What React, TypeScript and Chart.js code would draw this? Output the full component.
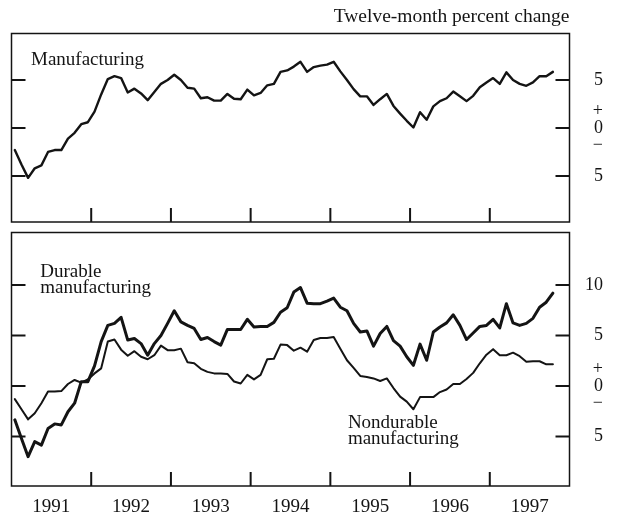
import React, { useEffect, useRef } from 'react';
import { Chart, registerables } from 'chart.js';

Chart.register(...registerables);

// ---- data -------------------------------------------------------------
const START_YEAR = 1991;
const END_YEAR = 1998;
const yearLabels = ['1991', '1992', '1993', '1994', '1995', '1996', '1997'];
const yearBoundaries = [1992, 1993, 1994, 1995, 1996, 1997];
const topTicks = [-5, 0, 5];
const bottomTicks = [-5, 0, 5, 10];
const titleText = 'Twelve-month percent change';

// Monthly twelve-month percent changes, Jan 1991 - Oct 1997
const manufacturing = [
  -2.3, -3.8, -5.2, -4.2, -3.9, -2.5, -2.3, -2.3, -1.1, -0.5, 0.4, 0.6,
  1.7, 3.5, 5.1, 5.4, 5.2, 3.7, 4.1, 3.6, 2.9, 3.75, 4.6, 5.0,
  5.55, 5.0, 4.2, 4.1, 3.1, 3.2, 2.85, 2.85, 3.55, 3.05, 3.0, 4.0,
  3.4, 3.65, 4.45, 4.6, 5.85, 6.0, 6.4, 6.9, 5.85, 6.35, 6.5, 6.6,
  6.9, 5.9, 5.0, 4.05, 3.3, 3.3, 2.4, 3.0, 3.55, 2.3, 1.5, 0.75,
  0.05, 1.65, 0.85, 2.25, 2.8, 3.1, 3.8, 3.3, 2.8, 3.35, 4.25, 4.75,
  5.2, 4.6, 5.8, 5.0, 4.6, 4.4, 4.75, 5.4, 5.4, 5.85,
];

const durable = [
  -3.35, -5.2, -7.0, -5.5, -5.85, -4.2, -3.75, -3.85, -2.55, -1.7, 0.43, 0.43,
  2.0, 4.4, 6.0, 6.2, 6.8, 4.55, 4.7, 4.2, 3.05, 4.2, 5.0, 6.2,
  7.45, 6.35, 6.0, 5.7, 4.6, 4.8, 4.4, 4.05, 5.6, 5.6, 5.6, 6.6,
  5.85, 5.9, 5.9, 6.3, 7.3, 7.75, 9.3, 9.75, 8.2, 8.15, 8.15, 8.4,
  8.7, 7.8, 7.45, 6.2, 5.35, 5.45, 3.95, 5.2, 5.9, 4.5, 3.95, 2.9,
  2.05, 4.15, 2.55, 5.35, 5.85, 6.25, 7.05, 6.0, 4.6, 5.25, 5.9, 6.0,
  6.6, 5.75, 8.15, 6.25, 6.0, 6.2, 6.7, 7.8, 8.3, 9.2,
];

const nondurable = [
  -1.3, -2.3, -3.3, -2.7, -1.7, -0.55, -0.55, -0.5, 0.2, 0.6, 0.33, 0.65,
  1.25, 1.75, 4.4, 4.6, 3.6, 3.0, 3.45, 2.9, 2.65, 3.05, 4.0, 3.55,
  3.55, 3.7, 2.35, 2.25, 1.7, 1.4, 1.25, 1.25, 1.2, 0.45, 0.25, 1.1,
  0.65, 1.1, 2.65, 2.7, 4.1, 4.05, 3.5, 3.8, 3.4, 4.55, 4.75, 4.75,
  4.85, 3.7, 2.55, 1.8, 1.0, 0.9, 0.75, 0.5, 0.75, -0.2, -1.05, -1.55,
  -2.3, -1.1, -1.1, -1.1, -0.6, -0.35, 0.2, 0.2, 0.7, 1.3, 2.25, 3.1,
  3.65, 3.05, 3.05, 3.3, 2.95, 2.4, 2.45, 2.45, 2.15, 2.15,
];

const topNotes = [{ lines: ['Manufacturing'], x: 1991.245, y: 6.6 }];
const bottomNotes = [
  { lines: ['Durable', 'manufacturing'], x: 1991.36, y: 10.82 },
  { lines: ['Nondurable', 'manufacturing'], x: 1995.22, y: -4.11 },
];

// ---- styling ----------------------------------------------------------
const FONT = '"Liberation Serif", "Times New Roman", serif';
const INK = '#141414';
const FONT_SIZE = 19;
const NOTE_LINE = 16.5;

const monthX = (i: number) => START_YEAR + (i + 0.5) / 12;
const toPoints = (arr: number[]) => arr.map((v, i) => ({ x: monthX(i), y: v }));

function makeFrame(cfg: { yTicks: number[]; notes: any[]; title?: string }) {
  return {
    id: 'frame',
    beforeDatasetsDraw(chart: any) {
      const { ctx, chartArea: ca, scales } = chart;
      ctx.save();
      ctx.strokeStyle = INK;
      ctx.lineWidth = 1.5;
      ctx.strokeRect(ca.left, ca.top, ca.right - ca.left, ca.bottom - ca.top);
      ctx.lineWidth = 2;
      const tl = 14;
      ctx.beginPath();
      for (const v of cfg.yTicks) {
        const y = scales.y.getPixelForValue(v);
        ctx.moveTo(ca.left, y);
        ctx.lineTo(ca.left + tl, y);
        ctx.moveTo(ca.right, y);
        ctx.lineTo(ca.right - tl, y);
      }
      for (const v of yearBoundaries) {
        const x = scales.x.getPixelForValue(v);
        ctx.moveTo(x, ca.bottom);
        ctx.lineTo(x, ca.bottom - tl);
      }
      ctx.stroke();
      ctx.restore();
    },
    afterDraw(chart: any) {
      const { ctx, chartArea: ca, scales } = chart;
      ctx.save();
      ctx.fillStyle = INK;
      ctx.font = `${FONT_SIZE}px ${FONT}`;
      ctx.textAlign = 'left';
      ctx.textBaseline = 'alphabetic';
      for (const n of cfg.notes) {
        const x = scales.x.getPixelForValue(n.x);
        const y = scales.y.getPixelForValue(n.y);
        n.lines.forEach((t: string, k: number) => ctx.fillText(t, x, y + k * NOTE_LINE));
      }
      if (cfg.title) {
        ctx.font = `19.5px ${FONT}`;
        ctx.textAlign = 'right';
        ctx.textBaseline = 'alphabetic';
        ctx.fillText(cfg.title, ca.right, 21.5);
      }
      ctx.restore();
    },
  };
}

// Right-hand value axis; labels right-aligned to the axis' outer edge
function yAxis(ticks: number[], min: number, max: number) {
  return {
    type: 'linear',
    position: 'right',
    min,
    max,
    grid: { display: false, drawTicks: false },
    border: { display: false },
    afterBuildTicks: (scale: any) => {
      scale.ticks = ticks.map((v) => ({ value: v }));
    },
    afterFit: (scale: any) => {
      scale.width = 33.5;
      scale.paddingTop = 0;
      scale.paddingBottom = 0;
    },
    ticks: {
      color: INK,
      padding: 0,
      crossAlign: 'far',
      font: { family: FONT, size: 18, lineHeight: 0.95 },
      callback: (v: number) => (v === 0 ? ['+', '0', '\u2212'] : String(Math.abs(v))),
    },
  };
}

function lineDs(data: number[], width: number) {
  return {
    data: toPoints(data),
    borderColor: INK,
    borderWidth: width,
    pointRadius: 0,
    tension: 0,
    fill: false,
    borderJoinStyle: 'round',
    borderCapStyle: 'round',
  };
}

export default function App() {
  const topRef = useRef<HTMLCanvasElement>(null);
  const botRef = useRef<HTMLCanvasElement>(null);

  useEffect(() => {
    const top = new Chart(topRef.current as HTMLCanvasElement, {
      type: 'line',
      data: { datasets: [lineDs(manufacturing, 2.4)] as any },
      options: {
        responsive: false,
        animation: false,
        layout: { padding: { left: 11.5, top: 33.5, bottom: 6, right: 14 } },
        plugins: { legend: { display: false }, tooltip: { enabled: false } },
        scales: {
          x: { type: 'linear', min: START_YEAR, max: END_YEAR, display: false },
          y: yAxis(topTicks, -9.8, 9.85) as any,
        },
      },
      plugins: [makeFrame({ yTicks: topTicks, notes: topNotes, title: titleText })],
    });

    const bottom = new Chart(botRef.current as HTMLCanvasElement, {
      type: 'line',
      data: { datasets: [lineDs(durable, 3), lineDs(nondurable, 2)] as any },
      options: {
        responsive: false,
        animation: false,
        layout: { padding: { left: 11.5, top: 4.5, bottom: 0, right: 14 } },
        plugins: { legend: { display: false }, tooltip: { enabled: false } },
        scales: {
          x: {
            type: 'linear',
            min: START_YEAR,
            max: END_YEAR,
            grid: { display: false, drawTicks: false },
            border: { display: false },
            afterBuildTicks: (scale: any) => {
              scale.ticks = yearLabels.map((_, i) => ({ value: START_YEAR + i + 0.5 }));
            },
            afterFit: (scale: any) => {
              scale.height = 30;
              scale.paddingLeft = 0;
              scale.paddingRight = 0;
            },
            ticks: {
              color: INK,
              padding: 9.6,
              autoSkip: false,
              maxRotation: 0,
              font: { family: FONT, size: FONT_SIZE, lineHeight: 1.2 },
              callback: (_v: number, i: number) => yearLabels[i],
            },
          } as any,
          y: yAxis(bottomTicks, -9.9, 15.2) as any,
        },
      },
      plugins: [makeFrame({ yTicks: bottomTicks, notes: bottomNotes })],
    });

    return () => {
      top.destroy();
      bottom.destroy();
    };
  }, []);

  return (
    <div style={{ position: 'absolute', left: 0, top: 0, width: 617, height: 516, background: '#fff' }}>
      <canvas ref={topRef} width={617} height={228} style={{ position: 'absolute', left: 0, top: 0, display: 'block' }} />
      <canvas ref={botRef} width={617} height={288} style={{ position: 'absolute', left: 0, top: 228, display: 'block' }} />
    </div>
  );
}
